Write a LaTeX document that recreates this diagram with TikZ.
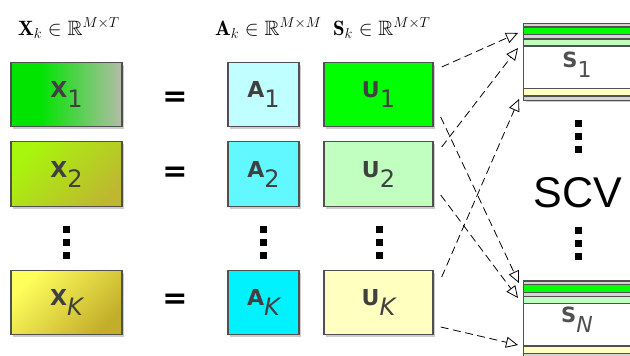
\documentclass[tikz,border=0pt]{standalone}
\usepackage{amssymb}
\usepackage{fontspec}
\newfontfamily\lblfont{DejaVu Sans}
\newfontfamily\scvfont{Liberation Sans}
\usetikzlibrary{arrows.meta,calc,shadows}
\definecolor{bd}{HTML}{505050}
\definecolor{lbl}{HTML}{404040}
\definecolor{xonea}{HTML}{00E400}
\definecolor{xoneb}{HTML}{B4BCA8}
\definecolor{xtwoa}{HTML}{A8F60C}
\definecolor{xtwob}{HTML}{BEB830}
\definecolor{xka}{HTML}{FFFF5C}
\definecolor{xkb}{HTML}{C2AE2A}
\definecolor{aone}{HTML}{C0FFFF}
\definecolor{atwo}{HTML}{62F8FF}
\definecolor{ak}{HTML}{00F2FF}
\definecolor{uone}{HTML}{00FF00}
\definecolor{utwo}{HTML}{C0FFC0}
\definecolor{uk}{HTML}{FFFFC0}
\definecolor{band}{HTML}{D4D4D4}
\pgfdeclarehorizontalshading{xoneshade}{100bp}{color(0bp)=(xonea); color(25bp)=(xonea); color(38bp)=(xonea); color(75bp)=(xoneb); color(100bp)=(xoneb)}
\newcommand\boxlab[2]{{\lblfont\fontsize{22}{26}\selectfont\bfseries #1}\raisebox{-10pt}{\lblfont\fontsize{24}{28}\selectfont #2}}
\newcommand\slab[2]{{\lblfont\fontsize{21}{25}\selectfont\bfseries #1}\raisebox{-10pt}{\lblfont\fontsize{22}{26}\selectfont #2}}
\tikzset{
  mbox/.style={draw=bd, line width=1.4pt, inner sep=0pt, text=lbl,
    drop shadow={shadow xshift=2pt, shadow yshift=-2.5pt, fill=black, opacity=0.2}},
  eqsign/.style={font=\lblfont\fontsize{30}{32}\selectfont\bfseries, inner sep=0pt},
  hdr/.style={anchor=base west, inner sep=0pt, font=\fontsize{20.74}{24}\selectfont},
  dotsq/.style={fill=black},
  conn/.style={draw=black, line width=0.8pt, dash pattern=on 8pt off 4.5pt,
    -{Triangle[open, length=12pt, width=11pt, line width=0.8pt]}},
  stack/.pic={
    \fill[black, opacity=0.2] (2,2) rectangle (122,79);
    \fill[band] (0,0) rectangle (120,77);
    \fill[uone] (0,3.7) rectangle (120,11.4);
    \fill[utwo] (0,15.7) rectangle (120,22.7);
    \fill[white] (0,22.7) rectangle (120,65);
    \fill[uk] (0,65) rectangle (120,72.7);
    \foreach \yy in {3.7,11.4,15.7,22.7,65,72.7} \draw[bd, line width=1.4pt] (0,\yy) -- (120,\yy);
    \draw[bd, line width=1.5pt] (0,0) rectangle (120,77);
  }
}
\begin{document}
\begin{tikzpicture}[x=1pt, y=-1pt]
\useasboundingbox (0,0) rectangle (630,356);
\clip (0,0) rectangle (630,356);
\fill[white] (0,0) rectangle (630,356);

% headers
\node[hdr] (hx) at (18,35) {$\mathbf{X}_k \in \mathbb{R}^{M\times T}$};
\node[hdr] (ha) at (215,35) {$\mathbf{A}_k \in \mathbb{R}^{M\times M}$};
\node[hdr] (hs) at (333,35) {$\mathbf{S}_k \in \mathbb{R}^{M\times T}$};

% X boxes
\node[mbox, minimum width=111pt, minimum height=64.5pt, shading=xoneshade] (x1) at (66.5,94.5) {\boxlab{X}{1}};
\node[mbox, minimum width=111pt, minimum height=64.5pt, top color=xtwoa, bottom color=xtwob, shading angle=45] (x2) at (66.5,174) {\boxlab{X}{2}};
\node[mbox, minimum width=111pt, minimum height=64.5pt, top color=xka, bottom color=xkb, shading angle=45] (xk) at (66.5,302.5) {\boxlab{X}{\itshape K}};

% equals
\node[eqsign] (e1) at (175,99) {=};
\node[eqsign] (e2) at (175,174) {=};
\node[eqsign] (ek) at (175,301) {=};

% A boxes
\node[mbox, minimum width=71pt, minimum height=64.5pt, fill=aone] (a1) at (263.5,94.5) {\boxlab{A}{1}};
\node[mbox, minimum width=71pt, minimum height=64.5pt, fill=atwo] (a2) at (263.5,174) {\boxlab{A}{2}};
\node[mbox, minimum width=71pt, minimum height=64.5pt, fill=ak] (ak) at (263.5,302.5) {\boxlab{A}{\itshape K}};

% U boxes
\node[mbox, minimum width=109pt, minimum height=64.5pt, fill=uone] (u1) at (378.5,94.5) {\boxlab{U}{1}};
\node[mbox, minimum width=109pt, minimum height=64.5pt, fill=utwo] (u2) at (378.5,174) {\boxlab{U}{2}};
\node[mbox, minimum width=109pt, minimum height=64.5pt, fill=uk] (uk) at (378.5,302.5) {\boxlab{U}{\itshape K}};

% vertical dots
\foreach \cx in {66.5, 263.5, 379.5} {
  \foreach \cy in {229.5, 242.5, 255.5} {
    \fill[dotsq] (\cx-3.5,\cy-3.5) rectangle (\cx+3.5,\cy+3.5);
  }
}
\foreach \cy in {123.5, 136.5, 149.5, 230, 243, 256} {
  \fill[dotsq] (575,\cy-3.5) rectangle (582,\cy+3.5);
}

% S stacks
\pic at (523.5,23.3) {stack};
\pic at (523.5,281) {stack};
\node[inner sep=0pt, anchor=base, text=bd] (s1) at (577,67) {\slab{S}{1}};
\node[inner sep=0pt, anchor=base, text=bd] (sn) at (577,322) {\slab{S}{\itshape N}};
\node[inner sep=0pt, anchor=base, font=\scvfont\fontsize{43}{46}\selectfont] (scv) at (578,207) {SCV};

% arrow end points
\coordinate (t1) at (518,33);
\coordinate (t2) at (518,48);
\coordinate (t3) at (519,99);
\coordinate (t4) at (519,283);
\coordinate (t5) at (518,298);
\coordinate (t6) at (518,345);

\draw[conn] ($(u1.east)+(8,-27.5)$) -- (t1);
\draw[conn] ($(u2.east)+(8,-27)$) -- (t2);
\draw[conn] ($(uk.east)+(8,-25.5)$) -- (t3);
\draw[conn] ($(u1.east)+(7,22.5)$) -- (t4);
\draw[conn] ($(u2.east)+(7,21)$) -- (t5);
\draw[conn] ($(uk.east)+(7,24.5)$) -- (t6);
\end{tikzpicture}
\end{document}
